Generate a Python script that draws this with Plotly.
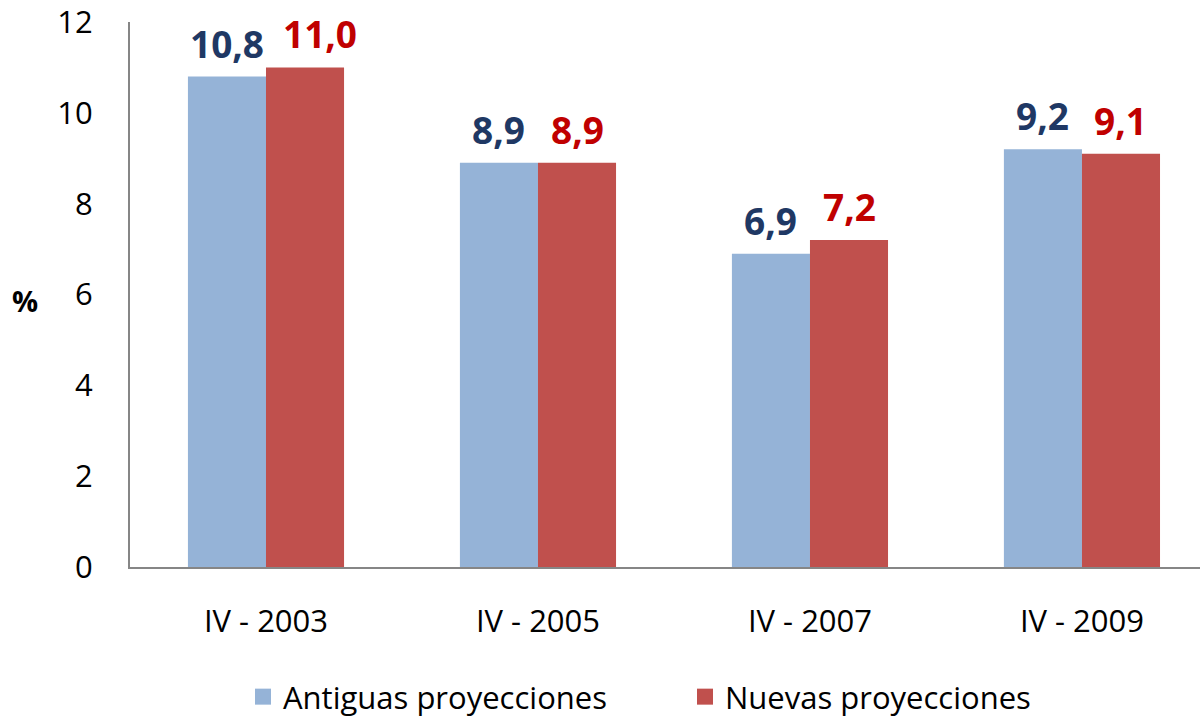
import plotly.graph_objects as go

categories = ["IV - 2003", "IV - 2005", "IV - 2007", "IV - 2009"]
antiguas = [10.8, 8.9, 6.9, 9.2]
nuevas = [11.0, 8.9, 7.2, 9.1]
y_ticks = [0, 2, 4, 6, 8, 10, 12]
series_names = ["Antiguas proyecciones", "Nuevas proyecciones"]

FONT = "Open Sans"
BAR_BLUE = "#95B3D7"
BAR_RED = "#C0504D"
LAB_BLUE = "#1F3864"
LAB_RED = "#C00000"
AXIS_GRAY = "#868686"
BARGAP = 0.426

fig = go.Figure()
for vals, name, col in ((antiguas, series_names[0], BAR_BLUE),
                        (nuevas, series_names[1], BAR_RED)):
    fig.add_trace(go.Bar(x=categories, y=vals, name=name, legendgroup=name,
                         showlegend=False,
                         marker=dict(color=col, line=dict(width=0))))
# legend entries with larger square swatches
for name, col in ((series_names[0], BAR_BLUE), (series_names[1], BAR_RED)):
    fig.add_trace(go.Scatter(x=[None], y=[None], mode="markers", name=name,
                             legendgroup=name, showlegend=True,
                             marker=dict(symbol="square", size=19, color=col,
                                         line=dict(width=0))))

half = (1 - BARGAP) / 4.0
for i, cat in enumerate(categories):
    a, n = antiguas[i], nuevas[i]
    # nudge the right label when neighbouring labels would collide (tall pair)
    nudge = 15 if min(a, n) >= 10 else 0
    for val, sign, col, xs in ((a, -1, LAB_BLUE, 0), (n, 1, LAB_RED, nudge)):
        fig.add_annotation(
            x=i + sign * half, y=val, xref="x", yref="y",
            text="<b>" + f"{val:.1f}".replace(".", ",") + "</b>",
            showarrow=False, yanchor="bottom", xanchor="center",
            yshift=6, xshift=xs,
            font=dict(family=FONT, size=37, color=col),
        )

fig.add_annotation(x=(25 - 130) / 1070, y=6, xref="paper", yref="y",
                   text="<b>%</b>", showarrow=False, xanchor="center",
                   yshift=-6,
                   font=dict(family=FONT, size=29, color="black"))

fig.update_layout(
    width=1200, height=717,
    margin=dict(l=130, r=0, t=22, b=150, pad=0, autoexpand=False),
    paper_bgcolor="white", plot_bgcolor="white",
    barmode="group", bargap=BARGAP, bargroupgap=0,
    separators=",.",
    font=dict(family=FONT, color="black"),
    showlegend=True,
    legend=dict(orientation="h", x=(243 - 130) / 1070, xanchor="left",
                y=(567 - 697) / 545, yanchor="middle",
                font=dict(family=FONT, size=31, color="black"),
                entrywidth=397, entrywidthmode="pixels",
                bgcolor="rgba(0,0,0,0)"),
    xaxis=dict(type="category", range=[-0.5, 3.434], showgrid=False,
               showline=True, linecolor=AXIS_GRAY, linewidth=2,
               ticks="", ticklabelstandoff=26,
               tickfont=dict(family=FONT, size=31, color="black")),
    yaxis=dict(range=[0, 12], tickvals=y_ticks, showgrid=False, zeroline=False,
               showline=True, linecolor=AXIS_GRAY, linewidth=2,
               ticks="", ticklabelstandoff=29, ticklabeloverflow="allow",
               tickfont=dict(family=FONT, size=31, color="black")),
)

fig.write_html("out.html", config={"displayModeBar": False},
               post_script="document.body.style.margin='0px';")
